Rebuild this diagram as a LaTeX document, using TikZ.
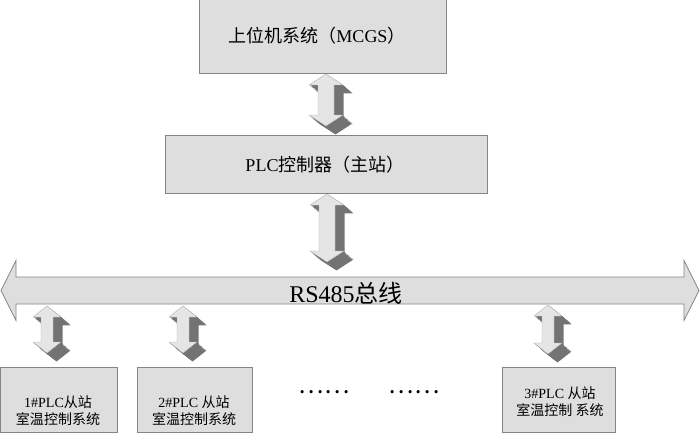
\documentclass[tikz,border=0pt]{standalone}
\usepackage{fontspec}
\setmainfont{Liberation Serif}
\newfontfamily\cjk{Noto Sans CJK SC}
\newcommand{\zh}[1]{{\cjk #1}}
\usetikzlibrary{calc}
\definecolor{boxfill}{gray}{0.87}
\definecolor{boxline}{gray}{0.52}
\definecolor{arrfill}{gray}{0.9}
\definecolor{arrshade}{gray}{0.45}

% outline of a 3D up/down arrow: top tip, bottom tip, head half width, shaft half width, offset
\newcommand{\arrowshape}[5]{($(#1)+#5$) -- ($(#1)+#5+(#3,11)$) -- ($(#1)+#5+(#4,11)$) -- ($(#2)+#5+(#4,-11)$) -- ($(#2)+#5+(#3,-11)$) -- ($(#2)+#5$) -- ($(#2)+#5+(-#3,-11)$) -- ($(#2)+#5+(-#4,-11)$) -- ($(#1)+#5+(-#4,11)$) -- ($(#1)+#5+(-#3,11)$) -- cycle}
\newcommand{\blockarrow}[4]{%
  \foreach \k in {12,11,...,1}{\fill[arrback] \arrowshape{#1}{#2}{#3}{#4}{(\k*0.8,\k*0.7)};}
  \filldraw[arrfront] \arrowshape{#1}{#2}{#3}{#4}{(0,0)};}

\begin{document}
\begin{tikzpicture}[x=1pt,y=-1pt,
  box/.style={draw=boxline,fill=boxfill,line width=0.8pt,inner sep=0pt},
  bigtext/.style={font=\fontsize{18}{22}\selectfont},
  smalltext/.style={font=\fontsize{14}{17}\selectfont,align=center},
  arrfront/.style={fill=arrfill,draw=gray!60,line width=0.4pt},
  arrback/.style={fill=arrshade},
  busarrow/.style={fill=boxfill,draw=boxline,line width=0.8pt}]
\useasboundingbox (0,0) rectangle (700,433);

% main boxes
\node[box,minimum width=247,minimum height=76] (host) at (322.5,35) {};
\node[bigtext] (hosttext) at (317,36) {\zh{上位机系统（}MCGS\zh{）}};
\node[box,minimum width=322,minimum height=58] (master) at (326,164) {};
\node[bigtext] (mastertext) at (325,165) {PLC\zh{控制器（主站）}};

% bus
\coordinate (busL) at (1,290.5);
\coordinate (busR) at (699,290.5);
\filldraw[busarrow] (busL) -- ($(busL)+(15,-30)$) -- ($(busL)+(15,-13.5)$) -- ($(busR)+(-15,-13.5)$) -- ($(busR)+(-15,-30)$) -- (busR)
  -- ($(busR)+(-15,30)$) -- ($(busR)+(-15,13.5)$) -- ($(busL)+(15,13.5)$) -- ($(busL)+(15,30)$) -- cycle;
\node[font=\fontsize{24}{28}\selectfont] (bus) at (346,293) {RS485\zh{总线}};

% slave stations
\node[box,minimum width=117,minimum height=65] (slaveA) at (58.5,399.5) {};
\node[smalltext] (slaveAtext) at (58,410.5) {1\#PLC\zh{从站}\\\zh{室温控制系统}};
\node[box,minimum width=115,minimum height=65] (slaveB) at (194.5,399.5) {};
\node[smalltext] (slaveBtext) at (194,410.5) {2\#PLC \zh{从站}\\\zh{室温控制系统}};
\node[box,minimum width=113,minimum height=65] (slaveC) at (558.5,399.5) {};
\node[smalltext] (slaveCtext) at (560,401.5) {3\#PLC \zh{从站}\\\zh{室温控制 系统}};
\node[font=\fontsize{24}{28}\selectfont] (dotsA) at (324,392) {\zh{……}};
\node[font=\fontsize{24}{28}\selectfont] (dotsB) at (414,392) {\zh{……}};

% links
\coordinate (a1t) at (326,74);   \coordinate (a1b) at (326,126);
\coordinate (a2t) at (327,194);  \coordinate (a2b) at (327,262);
\coordinate (b1t) at (47,306);   \coordinate (b1b) at (47,353);
\coordinate (b2t) at (183,306);  \coordinate (b2b) at (183,353);
\coordinate (b3t) at (548,305);  \coordinate (b3b) at (548,354);
\blockarrow{a1t}{a1b}{17}{8}
\blockarrow{a2t}{a2b}{17}{8}
\blockarrow{b1t}{b1b}{14}{6}
\blockarrow{b2t}{b2b}{14}{6}
\blockarrow{b3t}{b3b}{14}{6}
\end{tikzpicture}
\end{document}
